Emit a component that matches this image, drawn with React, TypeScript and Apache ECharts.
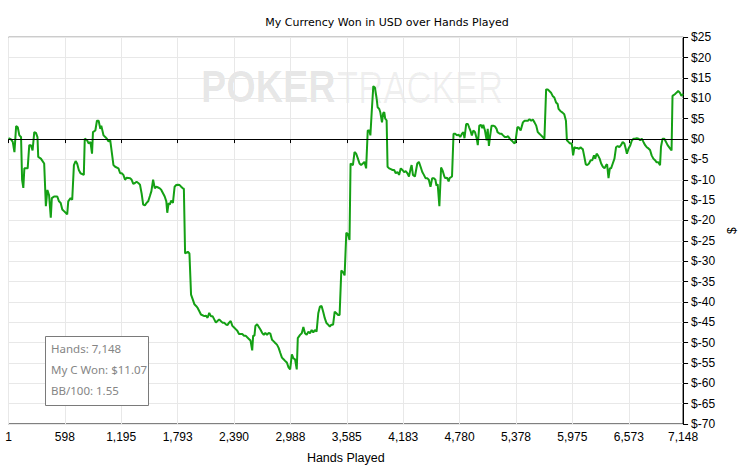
import React, { useEffect, useRef } from "react";
import * as echarts from "echarts";

const chartTitle = "My Currency Won in USD over Hands Played";
const xAxisName = "Hands Played";
const yAxisName = "$";
const xTickValues = [1, 598, 1195, 1793, 2390, 2988, 3585, 4183, 4780, 5378, 5975, 6573, 7148];
const yMin = -70;
const yMax = 25;
const yStep = 5;
const statLines = ["Hands: 7,148", "My C Won: $11.07", "BB/100: 1.55"];

// [hands played, cumulative USD won]
const segStart = [
  [1, 0.2], [29, -0.1], [46, -0.7], [64, -3.2], [82, 3.2], [99, 2.9], [116, 0.9], [134, 0.5], [145, -10], [158, -12],
  [169, -7.2], [204, -7.2], [221, -1.5], [239, -1.5], [256, -2.8], [274, 1.7], [292, 1.5], [308, 0.5], [316, -4.4], [344, -4.8],
  [379, -6], [397, -16.5], [413, -12.5], [431, -13.8], [449, -19.3], [460, -14.5], [484, -14.1], [518, -14.1], [536, -15.3], [554, -15.7],
  [571, -17.3], [589, -17.7], [607, -18.1], [623, -18.5], [634, -15.3], [659, -14.5], [676, -14.9], [694, -6.4], [712, -5.4], [728, -6],
  [746, -7.6], [764, -8.4], [799, -8.8], [809, 0.1], [833, -0.3], [851, -1.1], [869, -0.7], [886, -3.6], [896, 1.7], [921, 2.1],
  [938, 4.5], [956, 4.5], [974, 2.5], [984, 3.3], [1008, 0.9], [1026, 0.5], [1043, 0.1], [1061, -0.6], [1079, -0.3], [1113, -6.4],
  [1131, -6.8], [1166, -7.2], [1184, -8.4], [1201, -8.4], [1218, -8.8], [1236, -10], [1253, -9.5], [1289, -9.6], [1306, -10], [1323, -11],
  [1341, -10.8], [1358, -10.5], [1376, -10.8], [1394, -11.2], [1411, -13.3], [1428, -16.1], [1446, -16.3], [1463, -15.7], [1481, -15.3], [1499, -14],
  [1515, -12.8], [1533, -10], [1551, -12.1], [1568, -11.7], [1586, -11.9], [1604, -12.1], [1620, -12.5], [1638, -13.3], [1656, -14.1], [1673, -15.3],
  [1683, -18.1], [1698, -15.7], [1709, -16.1], [1725, -15.1], [1743, -15.7], [1761, -11.7], [1778, -11.3], [1796, -11.2], [1814, -11.3], [1830, -11.7],
  [1848, -12.1], [1859, -12.2],
];

const segDrop = [
  [1872, -28.1], [1901, -27.7], [1918, -28.1], [1935, -38.2], [1953, -39.4], [1971, -40.6], [1988, -41], [2005, -41.5], [2023, -42.3], [2040, -43.1],
  [2076, -43.5], [2093, -43.4], [2110, -43.9], [2128, -42.7], [2145, -43.5], [2163, -43.5], [2181, -44.3], [2198, -45.1], [2215, -44.7], [2233, -44.3],
  [2250, -44.7], [2268, -45.1], [2286, -45.1], [2303, -45.5], [2320, -45.7], [2338, -45.1], [2355, -44.7], [2373, -45.9], [2391, -46.3], [2408, -46.7],
  [2425, -47.1], [2443, -47.9], [2460, -47.9], [2478, -47.9], [2496, -48.3], [2513, -48.3], [2530, -48.7], [2548, -49.1], [2565, -49.5], [2583, -51.9],
  [2593, -48.3], [2607, -48.3], [2617, -45.9], [2635, -45.5],
];

const segTrough = [
  [2670, -46.8], [2688, -47.6], [2706, -48.1], [2722, -47.6], [2740, -48.1], [2758, -47.6], [2775, -47.8], [2793, -49.3], [2811, -49.7], [2827, -50.1],
  [2845, -50.5], [2863, -51.3], [2880, -52.5], [2898, -53.7], [2915, -54.1], [2932, -54.5], [2950, -54.9], [2968, -56.1], [2985, -56.6], [3003, -52.9],
  [3020, -53.9], [3037, -54.1], [3055, -56.6], [3066, -48.9], [3090, -48.1], [3108, -47.7], [3125, -46.2], [3142, -47.7], [3160, -48.1], [3178, -47.3],
  [3195, -47.7], [3213, -46.9], [3230, -47.5], [3247, -46.9], [3265, -47.3], [3283, -42.8], [3300, -41.2], [3318, -41], [3335, -42.4], [3352, -44],
  [3370, -45.2], [3388, -45.6], [3405, -46.1], [3422, -45.6], [3440, -45.6], [3457, -42.4], [3475, -42.8], [3493, -43.2], [3509, -43.2], [3527, -32.3],
  [3545, -32.7], [3562, -33.5], [3580, -23], [3598, -23.4], [3614, -24.8],
];

const segRally = [
  [3625, -6], [3650, -6.4], [3667, -3.2], [3685, -3.6], [3703, -4.8], [3720, -6], [3737, -6.4], [3755, -6], [3772, -5.6], [3790, -7.2],
  [3807, 2.1], [3824, 2.1], [3835, 0.9], [3849, 6.6], [3866, 13], [3884, 12.6], [3902, 9.8], [3912, 7.8], [3929, 7.4], [3940, 6.6],
  [3958, 4.1], [3971, 6.4], [3982, 6.6], [3992, 5], [4007, 4.6], [4017, -6.8], [4034, -7.2], [4052, -7.4], [4070, -7.6], [4087, -7.6],
  [4104, -8.4], [4122, -8.1], [4139, -8.8], [4157, -7.2], [4175, -7.6], [4192, -8.1], [4209, -7.9], [4227, -8.4], [4244, -9.2], [4262, -7.2],
  [4272, -6.4], [4286, -8.8], [4307, -9.2], [4332, -6], [4349, -5.6], [4367, -6.8], [4385, -8.1], [4402, -8.8], [4419, -9.6], [4437, -9.6],
  [4454, -10], [4472, -11.7], [4490, -9.6], [4507, -9.6], [4524, -10], [4535, -11.4], [4548, -11.1], [4566, -16.5], [4584, -7], [4601, -7.8],
  [4619, -9.2], [4629, -9.6], [4647, -9.5], [4664, -10.4], [4674, -9.6], [4700, -9.2], [4716, 1.3],
];

const segLate = [
  [4734, 1.3], [4752, 0.9], [4769, 1.1], [4787, 0.5], [4805, 1.3], [4821, 1.7], [4832, 0.2], [4850, 3.7], [4868, 3.7], [4881, 2.9],
  [4895, 2.1], [4910, 0.9], [4926, 2.1], [4944, 1.7], [4962, 0.1], [4973, -1.5], [4989, 3.3], [5007, 3.5], [5021, 2.7], [5031, 3.5],
  [5049, 2.1], [5067, -0.3], [5078, 2.5], [5091, -1.7], [5102, 0.5], [5119, 3.3], [5136, 3.3], [5154, 3.1], [5172, 2.5], [5182, 1.7],
  [5206, 1.3], [5224, 1.3], [5241, 0.9], [5259, 0.5], [5277, 0.5], [5294, 0.7], [5311, 0.1], [5329, -0.3], [5346, -0.7], [5364, -1.1],
  [5374, -0.3], [5392, 2.9], [5406, 2.9], [5427, 2.1], [5451, 4.1], [5469, 4.5], [5504, 4.5], [5521, 4.9], [5539, 4.5], [5556, 4.8],
  [5574, 4.1], [5592, 3.3], [5609, 1.7], [5626, 1.3], [5644, 0.9], [5661, 0.5], [5679, 0.1], [5697, 12.2], [5714, 12.2], [5731, 11.8],
  [5749, 11.4], [5766, 10.6], [5784, 10.2], [5802, 9], [5819, 8.6], [5829, 7.4], [5847, 6.9], [5871, 6.5], [5889, 6.1], [5907, 4.5],
  [5917, -0.3], [5934, -0.7], [5952, -1.1], [5969, -1.1], [5983, -4], [5997, -2], [6012, -2.2], [6028, -2.2], [6046, -2.4], [6064, -2],
  [6075, -2.4], [6085, -2.4], [6099, -4], [6117, -6.2], [6133, -6.4], [6151, -6], [6169, -5.2], [6186, -5.2], [6204, -4], [6217, -4.8],
  [6232, -3.6], [6246, -4], [6264, -4.8], [6280, -6], [6298, -6.8], [6316, -7.2], [6333, -6.4], [6343, -6.2], [6358, -9.6], [6372, -7.2],
  [6385, -7.2], [6403, -6], [6421, -4.8], [6438, -2], [6455, -1.7], [6473, -2], [6490, -1.5], [6508, -0.7], [6526, -1.1], [6540, -2.3],
  [6553, -3.6], [6571, -2.3], [6589, -1.5], [6606, -0.3], [6624, 0.1], [6641, 0.1], [6658, 0.2], [6676, 0.1], [6694, -0.3], [6711, 0.1],
  [6728, -0.7], [6746, -1.5], [6763, -2], [6781, -2.3], [6798, -2.7], [6815, -4], [6833, -4.8], [6851, -5.2], [6868, -5.7], [6886, -5.7],
  [6904, -6.4], [6914, -1.9], [6931, 0.1], [6949, 0.1], [6967, -0.7], [6984, -1.5], [7009, -2.3], [7026, -2.8], [7036, 10.6], [7061, 11],
  [7078, 11.4], [7096, 11.8], [7114, 11.4], [7130, 10.6], [7148, 11.07],
];

const AXIS_FONT = "'Liberation Sans', Arial, sans-serif";
const TITLE_FONT = "'DejaVu Sans', Tahoma, sans-serif";

export default function App() {
  const ref = useRef<HTMLDivElement>(null);

  useEffect(() => {
    if (!ref.current) return;
    const chart = echarts.init(ref.current, null, { renderer: "svg" });
    const data = [...segStart, ...segDrop, ...segTrough, ...segRally, ...segLate];

    chart.setOption({
      animation: false,
      backgroundColor: "#ffffff",
      title: {
        text: chartTitle,
        left: 382,
        top: 12,
        textAlign: "center",
        textStyle: { fontFamily: TITLE_FONT, fontSize: 11, fontWeight: "normal", color: "#000" },
      },
      grid: {
        left: 8.5,
        right: 56,
        top: 37.3,
        bottom: 39.7,
        show: true,
        borderColor: "#000",
        borderWidth: 1,
        backgroundColor: "transparent",
      },
      xAxis: {
        type: "value",
        min: 1,
        max: 7148,
        name: xAxisName,
        nameLocation: "middle",
        nameGap: 27,
        nameTextStyle: { fontFamily: AXIS_FONT, fontSize: 12.5, color: "#000" },
        axisLine: { show: true, lineStyle: { color: "#000", width: 1 } },
        axisTick: { show: true, inside: false, length: 4, customValues: xTickValues, lineStyle: { color: "#000" } },
        axisLabel: {
          customValues: xTickValues,
          margin: 7,
          fontFamily: AXIS_FONT,
          fontSize: 12,
          color: "#000",
          formatter: (v: number) => Math.round(v).toLocaleString("en-US"),
        },
        splitLine: { show: true, lineStyle: { color: "#e8e8e8", width: 1 } },
      },
      yAxis: {
        type: "value",
        position: "right",
        min: yMin,
        max: yMax,
        interval: yStep,
        name: yAxisName,
        nameLocation: "middle",
        nameRotate: 90,
        nameGap: 40,
        nameTextStyle: { fontFamily: AXIS_FONT, fontSize: 12, color: "#000" },
        axisLine: { show: true, lineStyle: { color: "#000", width: 1 } },
        axisTick: { show: true, inside: false, length: 5, lineStyle: { color: "#000" } },
        axisLabel: {
          margin: 8,
          fontFamily: AXIS_FONT,
          fontSize: 12,
          color: "#000",
          formatter: (v: number) => "$" + v,
        },
        splitLine: { show: true, lineStyle: { color: "#e8e8e8", width: 1 } },
      },
      graphic: [
        {
          type: "text",
          x: 201,
          y: 87,
          scaleX: 0.86,
          z: 0,
          silent: true,
          style: {
            text: "POKER",
            font: "bold 44px 'Liberation Sans', Arial, sans-serif",
            fill: "rgba(0,0,0,0.1)",
            verticalAlign: "middle",
            align: "left",
          },
        },
        {
          type: "text",
          x: 337,
          y: 87,
          scaleX: 0.79,
          z: 0,
          silent: true,
          style: {
            text: "TRACKER",
            font: "44px 'Liberation Sans', Arial, sans-serif",
            fill: "rgba(0,0,0,0.06)",
            verticalAlign: "middle",
            align: "left",
          },
        },
        {
          type: "rect",
          z: 100,
          silent: true,
          shape: { x: 45.5, y: 336.5, width: 103, height: 69 },
          style: { fill: "#fff", stroke: "#7a7a7a", lineWidth: 1 },
        },
        ...statLines.map((t, i) => ({
          type: "text",
          z: 101,
          silent: true,
          x: 51,
          y: 348.5 + i * 20.8,
          style: {
            text: t,
            font: "11.5px 'Noto Sans', 'Open Sans', sans-serif",
            fill: "#858585",
            verticalAlign: "middle",
            align: "left",
          },
        })),
      ],
      series: [
        {
          type: "line",
          data,
          showSymbol: false,
          symbol: "none",
          z: 3,
          lineStyle: { color: "#14a014", width: 2 },
          markLine: {
            silent: true,
            symbol: "none",
            label: { show: false },
            lineStyle: { color: "#000", width: 1, type: "solid" },
            data: [{ yAxis: 0 }],
          },
        },
      ],
    });

    return () => chart.dispose();
  }, []);

  return (
    <div
      ref={ref}
      style={{ position: "fixed", left: 0, top: 0, width: 746, height: 469, background: "#fff" }}
    />
  );
}
